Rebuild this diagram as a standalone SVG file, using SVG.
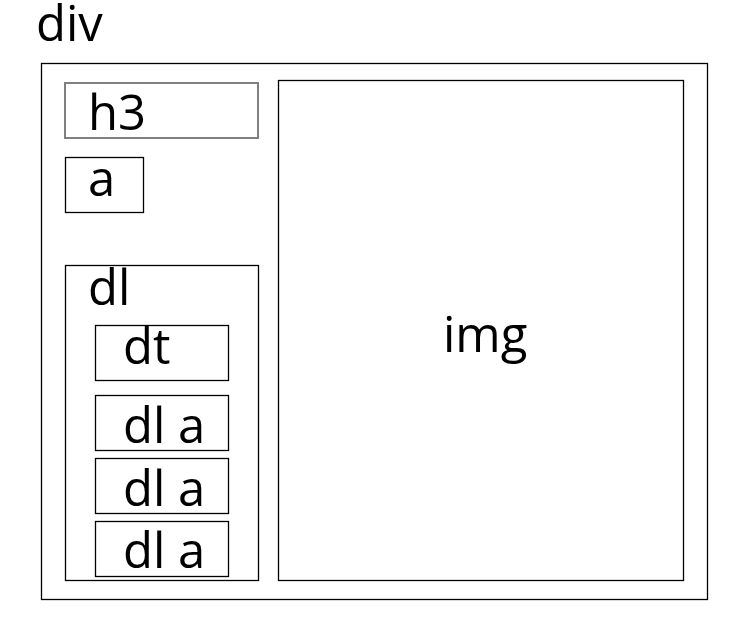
<svg xmlns="http://www.w3.org/2000/svg" width="732" height="626" viewBox="0 0 732 626">
<style>
.box{fill:none;stroke:#000;stroke-width:1.3}
.gray{fill:none;stroke:#808080;stroke-width:2}
text{font-family:"Open Sans","Noto Sans",sans-serif;font-size:49px;fill:#000}
</style>
<rect width="732" height="626" fill="#fff"/>
<g id="div">
<text x="36" y="41">div</text>
<rect class="box" x="41.5" y="63.5" width="666" height="536"/>
</g>
<g id="h3">
<rect class="gray" x="65" y="83" width="193" height="55"/>
<text x="88" y="130">h3</text>
</g>
<g id="a">
<rect class="box" x="65.5" y="157.5" width="78" height="55"/>
<text x="88" y="196">a</text>
</g>
<g id="dl">
<rect class="box" x="65.5" y="265.5" width="193" height="315"/>
<text x="88" y="305">dl</text>
</g>
<g id="dt">
<rect class="box" x="95.5" y="325.5" width="133" height="55"/>
<text x="123" y="364">dt</text>
</g>
<g id="dla1">
<rect class="box" x="95.5" y="395.5" width="133" height="55"/>
<text x="123" y="443">dl a</text>
</g>
<g id="dla2">
<rect class="box" x="95.5" y="458.5" width="133" height="55"/>
<text x="123" y="506">dl a</text>
</g>
<g id="dla3">
<rect class="box" x="95.5" y="521.5" width="133" height="55"/>
<text x="123" y="568">dl a</text>
</g>
<g id="img">
<rect class="box" x="278.5" y="80.5" width="405" height="500"/>
<text x="443" y="352">img</text>
</g>
<g id="connectors"></g>
</svg>
